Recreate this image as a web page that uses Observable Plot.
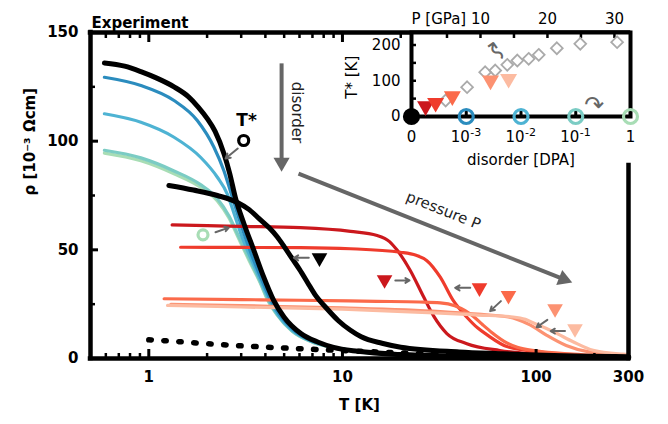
<!DOCTYPE html>
<html>
<head>
<meta charset="utf-8">
<script src="https://cdn.jsdelivr.net/npm/d3@7"></script>
<script src="https://cdn.jsdelivr.net/npm/@observablehq/plot@0.6"></script>
<style>
html,body{margin:0;padding:0;background:#fff;}
#chart{position:relative;width:668px;height:424px;overflow:hidden;}
#chart svg{position:absolute;left:0;top:0;}
</style>
</head>
<body>
<div id="chart"></div>
<script>
// ---------- main panel data: [T (K), rho (10^-3 Ohm cm)] ----------
const pristineAmbient = [[0.59,136],[0.75,134.5],[0.91,132],[1.1,129],[1.35,125],[1.6,120.5],[1.8,115.7],[2.0,110.5],[2.2,104.5],[2.45,94],[2.62,85],[2.8,74],[3.1,62],[3.48,50],[3.9,38],[4.4,27],[5.0,19],[6.1,11.5],[7.5,7.5],[9,5.1],[12,3.3],[20,1.8],[40,1.1],[100,0.7],[300,0.5]];
const pristineLowP = [[1.27,79.6],[1.7,77.5],[2.26,75],[2.87,71.8],[3.3,68.5],[3.7,64.5],[4.2,60],[4.6,56],[5.0,51.5],[5.5,46],[6.0,41],[6.6,35],[7.2,29.5],[8.3,23],[9.5,17.5],[11,13],[12.5,10],[16,7],[20,5.2],[40,3],[65,2.2],[100,1.6],[300,0.8]];
const dottedCurve = [[1.0,8.6],[1.4,7.8],[1.85,7.0],[2.8,6],[4.1,5.2],[7.7,4.1],[15,3],[30,2],[60,1.3],[100,1],[300,0.6]];

const disorderGreen = [[0.59,94.5],[0.91,91],[1.35,85],[1.85,78.8],[2.26,72.5],[2.6,64.5],[2.9,55.5],[3.3,45],[3.75,35],[4.1,27],[4.6,20],[5.5,12.5],[7,7.5],[9,5],[12,3.2],[20,1.7],[50,0.9],[300,0.4]];
const disorderTeal = [[0.59,95.8],[0.91,92.3],[1.35,86.3],[1.85,80],[2.26,73.5],[2.6,65.5],[2.9,56.5],[3.3,46],[3.75,35.5],[4.1,27.5],[4.6,20.3],[5.5,12.6],[7,7.6],[9,5],[12,3.2],[20,1.7],[50,0.9],[300,0.4]];
const disorderMidBlue = [[0.59,112.6],[0.91,108.7],[1.35,101.8],[1.85,92.6],[2.26,83.4],[2.54,75.8],[2.75,67],[3.0,57],[3.35,46.5],[3.75,36.5],[4.15,27.5],[4.65,20],[5.5,13],[7,7.8],[9,5.1],[12,3.3],[20,1.7],[50,0.9],[300,0.4]];
const disorderDarkBlue = [[0.59,129.4],[0.91,125.6],[1.35,118.7],[1.78,109.5],[2.17,97.2],[2.44,86.5],[2.64,77],[2.85,67.5],[3.1,57.5],[3.4,47.5],[3.8,37],[4.2,28],[4.7,20.5],[5.6,13],[7,8],[9,5.2],[12,3.3],[20,1.8],[50,0.9],[300,0.4]];
const disorderCurves = [disorderGreen, disorderTeal, disorderMidBlue, disorderDarkBlue];
const disorderColors = ["#a8ddb5", "#7bccc4", "#4eb3d3", "#2b8cbe"];

const pressure1 = [[1.32,61.5],[2,61.1],[3,60.8],[6.07,60.2],[11,58.5],[15.1,56.6],[17.5,53.8],[19.1,50],[22.4,40.5],[26.2,28.5],[29.6,19.5],[34.6,11.5],[43.9,6.8],[65,3.7],[100,2],[150,1],[300,0.5]];
const pressure2 = [[1.46,51.2],[3,51.1],[6.07,51],[11,50.5],[19.9,48.9],[24,47.5],[27.3,45],[32,37.4],[37.3,26.7],[43.9,19],[50,14],[55.6,11],[70.6,5.5],[105,2.9],[150,1.5],[300,0.6]];
const pressure3 = [[1.2,27.5],[3,27.1],[6,26.8],[15,26.3],[25,26],[32,25.6],[38,24.3],[43,22],[47.5,19.3],[53,15.5],[59,12],[70.6,7.2],[80,5.2],[100,3.5],[155,2],[300,0.8]];
const pressure4 = [[1.3,24.9],[3,24.3],[10,23.3],[32,21.6],[50,20.4],[70.6,19.2],[80,18],[93,15.5],[113,10.8],[143,6],[190,2.9],[280,1.6],[300,1.5]];
const pressure5 = [[1.25,24.4],[3,23.7],[10,22.7],[32,20.9],[50,20],[76,19.1],[88,18],[97,16.3],[123,12.3],[156,7.6],[197,3.8],[280,2],[300,1.8]];
const pressureCurves = [pressure1, pressure2, pressure3, pressure4, pressure5];
const pressureColors = ["#cb181d", "#ef3b2c", "#fb6a4a", "#fc9272", "#fcbba1"];

// T* markers (down triangles) in main panel
const markerT = [7.61, 16.5, 51, 72, 125.3, 158.8];
const markerRho = [46.3, 36.2, 32.5, 29, 22.9, 13.7];
const markerColors = ["black", ...pressureColors];

// small pointer arrows
const arrowT1 = [2.88, 2.21, 6.7, 18.75, 45.7, 65.8, 114.3, 141];
const arrowRho1 = [96.6, 58.1, 46.3, 35.9, 32.5, 26.4, 17.8, 12.6];
const arrowT2 = [2.49, 2.59, 5.61, 22.2, 38.2, 57.9, 100.7, 119];
const arrowRho2 = [92, 60.2, 46.3, 35.9, 32.5, 21.8, 14.4, 12.6];

// open circle markers
const circleT = [3.09, 1.905];
const circleRho = [100.3, 56.9];
const circleColors = ["black", "#a8ddb5"];

// big arrows (disorder, pressure)
const bigArrowT1 = [4.85, 5.93];
const bigArrowRho1 = [135.8, 85.1];
const bigArrowHeadT = [4.85, 138.6];
const bigArrowHeadRho = [90.2, 36.5];
const bigArrowAngle = [180, 111.7];

// main tick values
const xMinorTicks = [0.6,0.7,0.8,0.9,2,3,4,5,6,7,8,9,20,30,40,50,60,70,80,90,200];
const xMajorTicks = [1, 10, 100];
const xTopMinorTicks = [0.6,0.7,0.8,0.9,2,3,4,5,6,7,8,9,20];
const xTopMajorTicks = [1, 10];
const xTickLabels = [1, 10, 100, 300];
const yMajorTicks = [0, 50, 100, 150];
const yMinorTicks = [25, 75, 125];

// ---------- inset data ----------
const diamondP = [4.8, 8.0, 10.7, 12.2, 14.0, 15.5, 17.2, 18.7, 21.4, 24.9, 30.4];
const diamondTstar = [44.8, 82, 124, 128.7, 144.6, 156.6, 161.4, 172.6, 191, 203.4, 208];
const insetTriP = [1.8, 3.3, 5.8, 11.5, 14.2];
const insetTriTstar = [28.8, 38.3, 56.8, 100.7, 105.5];
const disorderDPA = [0, 1e-3, 1e-2, 1e-1, 1];
const disorderTstar = [0, 0, 0, 0, 0];
const disorderCircleColors = ["black", "#2b8cbe", "#4eb3d3", "#7bccc4", "#a8ddb5"];
const disorderTickBase = ["0", "10", "10", "10", "1"];
const disorderTickExp = ["", "-3", "-2", "-1", ""];
const pTicks = [5, 10, 15, 20, 25, 30];
const pTickLabels = [10, 20, 30];
const tstarTicks = [0, 50, 100, 150, 200];
const tstarTickLabels = [0, 100, 200];
const tstarLabelPos = {P: -9.2, t: 110};
const curlyP = [12.5, 27];
const curlyTstar = [184.6, 30];
const curlyGlyph = ["↜", "↷"];
const curlyAngle = [55, 0];

// ---------- build ----------
const font = "DejaVu Sans";
const zeroAt = 1e-4; // axis-break position of "0" on the log disorder axis
const toRows = (pts) => pts.map(([T, rho]) => ({T, rho}));
const lineOpts = (color, w) => ({x: "T", y: "rho", stroke: color, strokeWidth: w, curve: "monotone-x"});
const rightBorderTop = 88.8;

const markers = markerT.map((T, i) => ({T, rho: markerRho[i], c: markerColors[i]}));
const arrows = arrowT1.map((T, i) => ({T1: T, r1: arrowRho1[i], T2: arrowT2[i], r2: arrowRho2[i]}));
const circles = circleT.map((T, i) => ({T, rho: circleRho[i], c: circleColors[i]}));
const bigShafts = bigArrowT1.map((T, i) => ({T1: T, r1: bigArrowRho1[i], T2: bigArrowHeadT[i], r2: bigArrowHeadRho[i], a: bigArrowAngle[i]}));

const main = Plot.plot({
  width: 668, height: 424,
  marginLeft: 90, marginRight: 40, marginTop: 32, marginBottom: 66,
  style: {fontFamily: font, background: "white", overflow: "visible", color: "black"},
  x: {type: "log", domain: [0.5, 300], label: null},
  y: {domain: [0, 150], label: null},
  color: {type: "identity"},
  marks: [
    ...disorderCurves.map((c, i) => Plot.line(toRows(c), lineOpts(disorderColors[i], 3.2))),
    ...pressureCurves.map((c, i) => Plot.line(toRows(c), lineOpts(pressureColors[i], 3.2))),
    Plot.line(toRows(dottedCurve), {...lineOpts("black", 5.5), strokeDasharray: "2.5 12.5"}),
    Plot.line(toRows(pristineLowP), lineOpts("black", 5)),
    Plot.line(toRows(pristineAmbient), lineOpts("black", 5)),
    // frame
    Plot.ruleX([0.5], {y1: 0, y2: 150, strokeWidth: 4.5, strokeLinecap: "square"}),
    Plot.ruleY([0], {x1: 0.5, x2: 300, strokeWidth: 4.5, strokeLinecap: "square"}),
    Plot.ruleY([150], {x1: 0.5, x2: 300, strokeWidth: 4.5, strokeLinecap: "square"}),
    Plot.ruleX([300], {y1: 0, y2: rightBorderTop, strokeWidth: 4.5, strokeLinecap: "square"}),
    // ticks (inward)
    Plot.axisX(xMinorTicks, {anchor: "bottom", tickSize: -5, strokeWidth: 2.5, fill: "none", label: null}),
    Plot.axisX(xMajorTicks, {anchor: "bottom", tickSize: -9, strokeWidth: 3, fill: "none", label: null}),
    Plot.axisX(xTopMinorTicks, {anchor: "top", tickSize: -5, strokeWidth: 2.5, fill: "none", label: null}),
    Plot.axisX(xTopMajorTicks, {anchor: "top", tickSize: -9, strokeWidth: 3, fill: "none", label: null}),
    Plot.axisY(yMajorTicks, {anchor: "left", tickSize: -8, strokeWidth: 3, fill: "none", label: null}),
    Plot.axisY(yMinorTicks, {anchor: "left", tickSize: -5, strokeWidth: 2.5, fill: "none", label: null}),
    Plot.text(xTickLabels, {x: (d) => d, text: (d) => String(d), frameAnchor: "bottom", dy: 23, fontSize: 15, fontWeight: "bold"}),
    Plot.axisY(yMajorTicks, {anchor: "left", tickSize: 0, tickPadding: 12, fontSize: 15, fontWeight: "bold", tickFormat: (d) => String(d), label: null}),
    // labels
    Plot.text(["Experiment"], {frameAnchor: "top-left", dx: 1, dy: -15, textAnchor: "start", fontSize: 15, fontWeight: "bold"}),
    Plot.text(["ρ [10⁻³ Ωcm]"], {frameAnchor: "left", dx: -60, rotate: -90, fontSize: 15, fontWeight: "bold"}),
    Plot.text(["T [K]"], {frameAnchor: "bottom", dy: 51, fontSize: 15, fontWeight: "bold"}),
    // big arrows
    Plot.link(bigShafts, {x1: "T1", y1: "r1", x2: "T2", y2: "r2", stroke: "#666", strokeWidth: 4}),
    Plot.dot(bigShafts, {x: "T2", y: "r2", symbol: "triangle", r: 6, fill: "#666", rotate: "a"}),
    Plot.text([{T: 5.79, rho: 113.2, s: "disorder"}], {x: "T", y: "rho", text: "s", rotate: 90, fontSize: 15, fill: "#222"}),
    Plot.text([{T: 33.2, rho: 68.1, s: "pressure P"}], {x: "T", y: "rho", text: "s", rotate: 21.7, fontSize: 15, fill: "#222"}),
    // annotations
    Plot.arrow(arrows, {x1: "T1", y1: "r1", x2: "T2", y2: "r2", stroke: "#666", strokeWidth: 2, headLength: 7}),
    Plot.dot(circles, {x: "T", y: "rho", r: 5, stroke: "c", strokeWidth: 3.2, fill: "none"}),
    Plot.text([{T: 3.2, rho: 109.5, s: "T*"}], {x: "T", y: "rho", text: "s", fontSize: 17, fontWeight: "bold"}),
    Plot.dot(markers, {x: "T", y: "rho", symbol: "triangle", r: 5.8, fill: "c", rotate: 180})
  ]
});

const insetMargins = {width: 668, height: 424, marginLeft: 411, marginRight: 38, marginTop: 32, marginBottom: 308};

const insetP = Plot.plot({
  ...insetMargins,
  style: {fontFamily: font, background: "none", overflow: "visible", color: "black"},
  x: {domain: [-0.3, 32.4], label: null},
  y: {domain: [0, 235], label: null},
  color: {type: "identity"},
  marks: [
    Plot.frame({stroke: "black", strokeWidth: 4, fill: "white"}),
    Plot.axisY(tstarTicks, {anchor: "left", tickSize: -5, strokeWidth: 2.5, fill: "none", label: null}),
    Plot.axisY(tstarTickLabels, {anchor: "left", tickSize: 0, tickPadding: 11, fontSize: 15, label: null}),
    Plot.axisX(pTicks, {anchor: "top", tickSize: -5, strokeWidth: 2.5, fill: "none", label: null}),
    Plot.axisX(pTickLabels, {anchor: "top", tickSize: 0, tickPadding: 9, fontSize: 15, label: null}),
    Plot.text(["P [GPa]"], {frameAnchor: "top-left", dy: -19, fontSize: 15}),
    Plot.text([tstarLabelPos], {x: "P", y: "t", text: () => "T* [K]", rotate: -90, fontSize: 15}),
    Plot.dot(diamondP.map((P, i) => ({P, t: diamondTstar[i]})), {x: "P", y: "t", symbol: "diamond2", r: 5.3, stroke: "#aaa", strokeWidth: 1.8, fill: "none"}),
    Plot.dot(insetTriP.map((P, i) => ({P, t: insetTriTstar[i], c: pressureColors[i]})), {x: "P", y: "t", symbol: "triangle", r: 6.3, fill: "c", rotate: 180}),
    Plot.text(curlyP.map((P, i) => ({P, t: curlyTstar[i], g: curlyGlyph[i], a: curlyAngle[i]})), {x: "P", y: "t", text: "g", rotate: "a", fontSize: 24, fill: "#666"})
  ]
});

const disorderRows = disorderDPA.map((d, i) => ({d: d === 0 ? zeroAt : d, t: disorderTstar[i], c: disorderCircleColors[i], f: i === 0 ? "black" : "none", base: disorderTickBase[i], exp: disorderTickExp[i]}));

const insetD = Plot.plot({
  ...insetMargins,
  style: {fontFamily: font, background: "none", overflow: "visible", color: "black"},
  x: {type: "log", domain: [zeroAt, 1], label: null},
  y: {domain: [0, 235], label: null, axis: null},
  color: {type: "identity"},
  marks: [
    Plot.axisX([1e-3, 1e-2, 1e-1], {anchor: "bottom", tickSize: -7, strokeWidth: 3, fill: "none", label: null}),
    Plot.text(disorderRows.filter((r) => r.exp === ""), {x: "d", text: "base", frameAnchor: "bottom", dy: 25, fontSize: 15}),
    Plot.text(disorderRows.filter((r) => r.exp !== ""), {x: "d", text: "base", frameAnchor: "bottom", dy: 25, dx: -6, fontSize: 15}),
    Plot.text(disorderRows.filter((r) => r.exp !== ""), {x: "d", text: "exp", frameAnchor: "bottom", dy: 19, dx: 4, textAnchor: "start", fontSize: 11}),
    Plot.text(["disorder [DPA]"], {frameAnchor: "bottom", dy: 48, fontSize: 15}),
    Plot.dot(disorderRows, {x: "d", y: "t", r: 7, stroke: "c", strokeWidth: 3.2, fill: "f"})
  ]
});

const el = document.getElementById("chart");
el.append(main, insetP, insetD);
</script>
</body>
</html>
